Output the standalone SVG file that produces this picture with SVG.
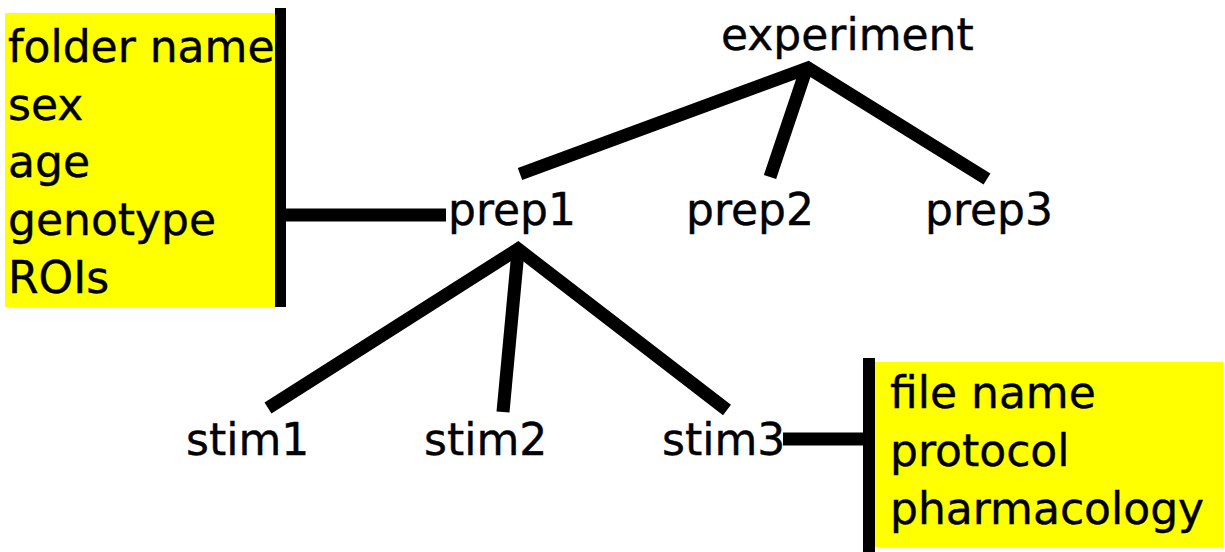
<svg xmlns="http://www.w3.org/2000/svg" width="1225" height="552" viewBox="0 0 1225 552">
<style>
text{font-family:"DejaVu Sans","Liberation Sans",sans-serif;font-size:44px;fill:#000;stroke:#000;stroke-width:0.4px}
.box{fill:#ffff00}
.bar{fill:#000}
.edge{stroke:#000;stroke-width:13;fill:none;stroke-linecap:butt}
</style>
<rect width="1225" height="552" fill="#fff"/>
<g id="folder-info">
<rect class="box" x="5" y="13" width="271" height="294"/>
<text x="8" y="62">folder name</text>
<text x="8" y="120">sex</text>
<text x="8" y="177">age</text>
<text x="8" y="235">genotype</text>
<text x="8" y="293">ROIs</text>
<rect class="bar" x="275" y="8" width="11" height="299"/>
</g>
<g id="file-info">
<rect class="box" x="875" y="362" width="348" height="185"/>
<rect class="bar" x="863" y="358" width="12" height="194"/>
<text x="890" y="408">file name</text>
<text x="890" y="466">protocol</text>
<text x="890" y="524">pharmacology</text>
</g>
<g id="experiment"><text x="721" y="50">experiment</text></g>
<g id="prep1"><text x="448" y="225">prep1</text></g>
<g id="prep2"><text x="686" y="225">prep2</text></g>
<g id="prep3"><text x="925" y="225">prep3</text></g>
<g id="stim1"><text x="186" y="455">stim1</text></g>
<g id="stim2"><text x="424" y="455">stim2</text></g>
<g id="stim3"><text x="662" y="455">stim3</text></g>
<g id="connectors">
<line class="edge" x1="286" y1="215" x2="446" y2="215"/>
<line class="edge" x1="783" y1="439" x2="864" y2="439"/>
<polyline class="edge" points="520,174 808,68 987,179"/>
<line class="edge" x1="806" y1="70" x2="770" y2="177"/>
<polyline class="edge" points="268,408 518,249 727,410"/>
<line class="edge" x1="518" y1="251" x2="503" y2="412"/>
</g>
</svg>
